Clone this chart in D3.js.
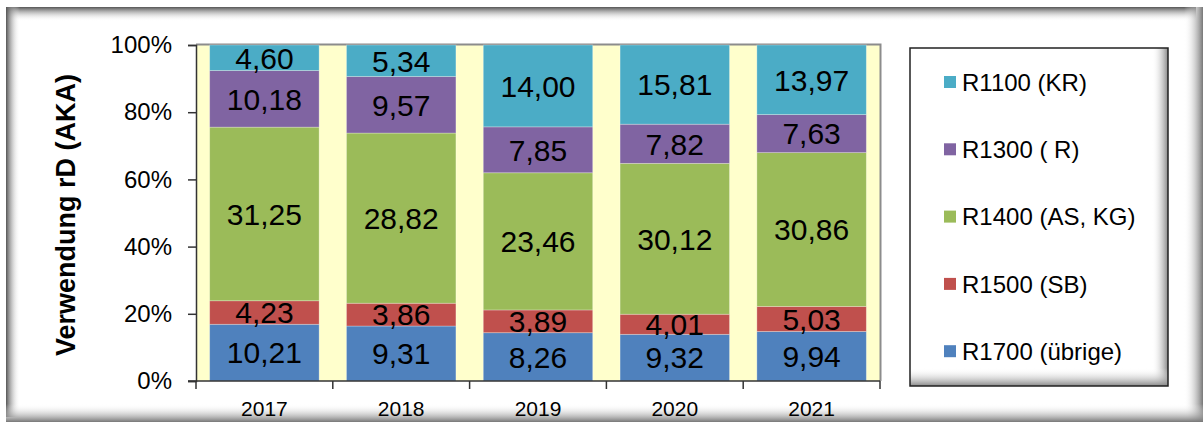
<!DOCTYPE html>
<html><head><meta charset="utf-8">
<script src="https://cdn.jsdelivr.net/npm/d3@7/dist/d3.min.js"></script>
<style>body{margin:0;background:#fff;}svg{display:block;font-family:Arial,"Liberation Sans",sans-serif;}</style>
</head><body>
<svg id="c" width="1203" height="422"></svg>
<script>
const years = ["2017","2018","2019","2020","2021"];
const seriesNames = ["R1700 (übrige)","R1500 (SB)","R1400 (AS, KG)","R1300 ( R)","R1100 (KR)"];
const seriesColors = ["#4F81BD","#C0504D","#9BBB59","#8064A2","#4BACC6"];
const r1700 = [10.21, 9.31, 8.26, 9.32, 9.94];
const r1500 = [4.23, 3.86, 3.89, 4.01, 5.03];
const r1400 = [31.25, 28.82, 23.46, 30.12, 30.86];
const r1300 = [10.18, 9.57, 7.85, 7.82, 7.63];
const r1100 = [4.60, 5.34, 14.00, 15.81, 13.97];
const yTicks = [0, 0.2, 0.4, 0.6, 0.8, 1.0];

const seriesValues = [r1700, r1500, r1400, r1300, r1100];
const table = years.map((y, i) => {
  const o = {year: y};
  seriesNames.forEach((s, k) => o[s] = seriesValues[k][i]);
  return o;
});

const FF = "Arial, Liberation Sans, sans-serif";
const svg = d3.select("#c");
const defs = svg.append("defs");
function grad(id, x1, y1, x2, y2, stops) {
  const g = defs.append("linearGradient").attr("id", id)
    .attr("x1", x1).attr("y1", y1).attr("x2", x2).attr("y2", y2);
  stops.forEach(s => g.append("stop").attr("offset", s[0]).attr("stop-color", s[1]).attr("stop-opacity", s[2]));
}
grad("gTop", 0, 0, 0, 1, [[0, "#555", 1], [1, "#fff", 0]]);
grad("gLeft", 0, 0, 1, 0, [[0, "#555", 1], [1, "#fff", 0]]);
grad("gRight", 0, 0, 1, 0, [[0, "#fff", 0], [1, "#777", 1]]);
grad("gBottom", 0, 0, 0, 1, [[0, "#fff", 0], [1, "#777", 1]]);

// outer frame shadows
svg.append("rect").attr("x", 6).attr("y", 7).attr("width", 1190).attr("height", 14).attr("fill", "url(#gTop)");
svg.append("rect").attr("x", 6).attr("y", 7).attr("width", 14).attr("height", 410).attr("fill", "url(#gLeft)");
svg.append("rect").attr("x", 1184).attr("y", 7).attr("width", 19).attr("height", 415).attr("fill", "url(#gRight)");
svg.append("rect").attr("x", 6).attr("y", 404).attr("width", 1197).attr("height", 18).attr("fill", "url(#gBottom)");

const x0 = 196, x1 = 880, yTop = 45, yBot = 381;
const x = d3.scaleBand().domain(years).range([x0, x1]).paddingInner(0.2).paddingOuter(0.1);
const y = d3.scaleLinear().domain([0, 1]).range([yBot, yTop]);

// plot area
svg.append("rect").attr("x", x0).attr("y", yTop).attr("width", x1 - x0).attr("height", yBot - yTop).attr("fill", "#FFFFCC");
svg.append("path").attr("d", `M${x0},${yTop - 0.5}H${x1 + 0.5}V${yBot}`).attr("fill", "none").attr("stroke", "#8c8c8c").attr("stroke-width", 2);

const stack = d3.stack().keys(seriesNames).offset(d3.stackOffsetExpand);
const stacked = stack(table);

const fmt = v => v.toFixed(2).replace(".", ",");
const g = svg.append("g");
stacked.forEach((layer, k) => {
  g.append("g").selectAll("rect").data(layer).join("rect")
    .attr("x", d => x(d.data.year))
    .attr("width", x.bandwidth())
    .attr("y", d => y(d[1]))
    .attr("height", d => y(d[0]) - y(d[1]))
    .attr("fill", seriesColors[k])
    .attr("stroke", "rgba(255,255,255,0.35)")
    .attr("stroke-width", 0.8);
});
stacked.forEach((layer, k) => {
  g.append("g").selectAll("text").data(layer).join("text")
    .attr("x", d => x(d.data.year) + x.bandwidth() / 2)
    .attr("y", d => (y(d[0]) + y(d[1])) / 2)
    .attr("dy", "0.36em")
    .attr("text-anchor", "middle")
    .attr("font-size", 30)
    .attr("fill", "#000")
    .text(d => fmt(d.data[layer.key]));
});

// y axis
const yAxis = svg.append("g").attr("transform", `translate(${x0},0)`)
  .call(d3.axisLeft(y).tickValues(yTicks).tickFormat(d3.format(".0%")).tickSize(8).tickPadding(16));
yAxis.attr("font-family", FF);
yAxis.select(".domain").attr("stroke", "#333").attr("stroke-width", 1.5);
yAxis.selectAll(".tick line").attr("stroke", "#333").attr("stroke-width", 1.5);
yAxis.selectAll("text").attr("font-size", 24).attr("fill", "#000");

// x axis
const xAxis = svg.append("g").attr("transform", `translate(0,${yBot})`);
xAxis.append("line").attr("x1", x0 - 8).attr("x2", x1).attr("y1", 0).attr("y2", 0).attr("stroke", "#333").attr("stroke-width", 1.5);
const bounds = years.map((d, i) => x0 + i * (x1 - x0) / years.length).concat([x1]);
xAxis.selectAll(".tk").data(bounds).join("line").attr("class", "tk")
  .attr("x1", d => d).attr("x2", d => d).attr("y1", 0).attr("y2", 8).attr("stroke", "#333").attr("stroke-width", 1.5);
xAxis.selectAll(".lb").data(years).join("text").attr("class", "lb")
  .attr("x", d => x(d) + x.bandwidth() / 2).attr("y", 35)
  .attr("text-anchor", "middle").attr("font-size", 21).attr("fill", "#000").text(d => d);

// y title
svg.append("text").attr("transform", "translate(66,215) rotate(-90)")
  .attr("text-anchor", "middle").attr("dy", "0.35em")
  .attr("font-size", 27).attr("font-weight", "bold").attr("fill", "#000")
  .text("Verwendung rD (AKA)");

// legend
const lx = 910, ly = 48, lw = 258, lh = 338;
grad("lRight", 0, 0, 1, 0, [[0, "#fff", 0], [1, "#888", 1]]);
grad("lBottom", 0, 0, 0, 1, [[0, "#fff", 0], [1, "#888", 1]]);
svg.append("rect").attr("x", lx).attr("y", ly).attr("width", lw).attr("height", lh).attr("fill", "#fff");
svg.append("rect").attr("x", lx + lw - 16).attr("y", ly).attr("width", 16).attr("height", lh).attr("fill", "url(#lRight)");
svg.append("rect").attr("x", lx).attr("y", ly + lh - 18).attr("width", lw).attr("height", 18).attr("fill", "url(#lBottom)");
svg.append("rect").attr("x", lx).attr("y", ly).attr("width", lw).attr("height", lh).attr("fill", "none").attr("stroke", "#222").attr("stroke-width", 1.5);

const legOrder = seriesNames.map((s, k) => ({name: s, color: seriesColors[k]})).reverse();
const lg = svg.append("g");
legOrder.forEach((d, i) => {
  const cy = 82 + i * 67.3;
  lg.append("rect").attr("x", 944).attr("y", cy - 6).attr("width", 12).attr("height", 12).attr("fill", d.color);
  lg.append("text").attr("x", 962).attr("y", cy).attr("dy", "0.36em").attr("font-size", 24).attr("fill", "#000").text(d.name);
});
</script>
</body></html>
